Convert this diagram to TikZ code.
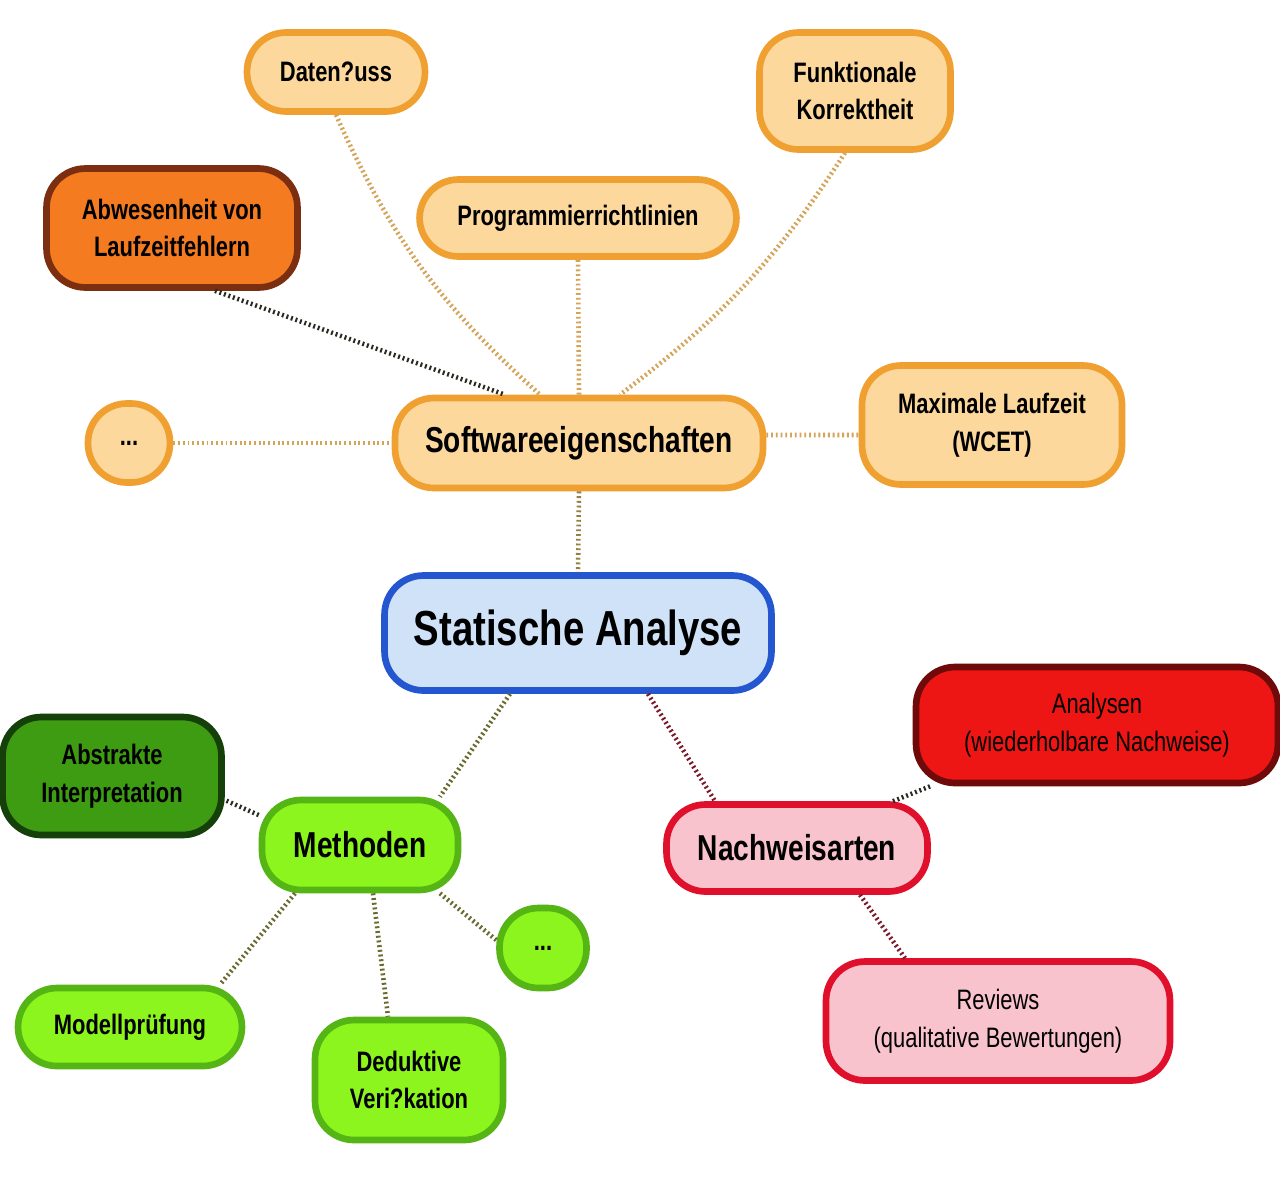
\documentclass[tikz,border=0pt]{standalone}
\usepackage{fontspec}
\setsansfont[FakeStretch=0.78]{Liberation Sans}
\definecolor{orfill}{HTML}{FCD89C}
\definecolor{ordraw}{HTML}{F0A030}
\definecolor{abfill}{HTML}{F47B20}
\definecolor{abdraw}{HTML}{7B2E10}
\definecolor{safill}{HTML}{CFE2F8}
\definecolor{sadraw}{HTML}{2456D0}
\definecolor{anfill}{HTML}{EE1515}
\definecolor{andraw}{HTML}{6E0A0A}
\definecolor{aifill}{HTML}{3E9C12}
\definecolor{aidraw}{HTML}{16400A}
\definecolor{grfill}{HTML}{8CF51E}
\definecolor{grdraw}{HTML}{55B514}
\definecolor{pkfill}{HTML}{F9C3CE}
\definecolor{pkdraw}{HTML}{E0102C}
\definecolor{tanc}{HTML}{D4A458}
\definecolor{olivec}{HTML}{6A6A30}
\definecolor{winec}{HTML}{7A1A2A}
\definecolor{darkc}{HTML}{2A2A22}
\tikzset{
  bx/.style 2 args={draw, line width=3.8pt, rounded corners=7.8mm, align=center,
    minimum width=#1*0.2mm, minimum height=#2*0.2mm, inner sep=0pt,
    font=\sffamily\bfseries\fontsize{16}{21.5}\selectfont},
  orn/.style={fill=orfill, draw=ordraw},
  grn/.style={fill=grfill, draw=grdraw},
  pkn/.style={fill=pkfill, draw=pkdraw},
  big/.style={font=\sffamily\bfseries\fontsize{20.5}{24}\selectfont},
  lk/.style={line width=2.6pt, dash pattern=on 1.1pt off 1.6pt},
}
\begin{document}
\begin{tikzpicture}[x=0.02cm, y=-0.02cm]
\useasboundingbox[fill=white] (0,0) rectangle (1280,1190);
% nodes
\node[bx={178}{79}, orn] (daten) at (336,72) {Daten?uss};
\node[bx={191}{117}, orn] (funk) at (855,91) {Funktionale\\Korrektheit};
\node[bx={317}{77}, orn] (prog) at (578,218) {Programmierrichtlinien};
\node[bx={251}{119}, fill=abfill, draw=abdraw] (abw) at (172,228) {Abwesenheit von\\Laufzeitfehlern};
\node[bx={82}{79}, orn] (dots1) at (129,443) {...};
\node[bx={368}{90}, orn, big] (sw) at (579,443) {Softwareeigenschaften};
\node[bx={260}{119}, orn] (wcet) at (992,425) {Maximale Laufzeit\\(WCET)};
\node[bx={387}{115}, fill=safill, draw=sadraw, font=\sffamily\bfseries\fontsize{28}{32}\selectfont] (sa) at (578,633) {Statische Analyse};
\node[bx={362}{116}, fill=anfill, draw=andraw, font=\sffamily\fontsize{16}{21.5}\selectfont] (ana) at (1097,725) {Analysen\\(wiederholbare Nachweise)};
\node[bx={219}{118}, fill=aifill, draw=aidraw] (abs) at (112,776) {Abstrakte\\Interpretation};
\node[bx={196}{90}, grn, big] (meth) at (360,845) {Methoden};
\node[bx={261}{87}, pkn, big] (nach) at (797,848) {Nachweisarten};
\node[bx={87}{80}, grn] (dots2) at (543,948) {...};
\node[bx={224}{78}, grn] (mod) at (130,1027) {Modellprüfung};
\node[bx={188}{120}, grn] (ded) at (409,1080) {Deduktive\\Veri?kation};
\node[bx={344}{119}, pkn, font=\sffamily\fontsize{16}{21.5}\selectfont] (rev) at (998,1021) {Reviews\\(qualitative Bewertungen)};
% connectors
\draw[lk, tanc] (daten.south) to[bend right=12] ([xshift=-39*0.2mm]sw.north);
\draw[lk, tanc] ([xshift=-10*0.2mm]funk.south) to[bend left=10] ([xshift=41*0.2mm]sw.north);
\draw[lk, tanc] (prog.south) -- (sw.north);
\draw[lk, darkc] ([xshift=43*0.2mm]abw.south) -- ([xshift=-74*0.2mm]sw.north);
\draw[lk, tanc] (dots1.east) -- (sw.west);
\draw[lk, tanc] ([yshift=8*0.2mm]sw.east) -- ([yshift=-10*0.2mm]wcet.west);
\draw[lk, olivec!60!tanc] (sw.south) -- (sa.north);
\draw[lk, olivec] ([xshift=-68*0.2mm]sa.south) -- ([xshift=80*0.2mm]meth.north);
\draw[lk, winec] ([xshift=70*0.2mm]sa.south) -- ([xshift=-82*0.2mm]nach.north);
\draw[lk, darkc] ([yshift=30*0.2mm]meth.west) -- ([yshift=-24*0.2mm]abs.east);
\draw[lk, olivec] ([xshift=-65*0.2mm]meth.south) -- ([xshift=90*0.2mm]mod.north);
\draw[lk, olivec] ([xshift=13*0.2mm]meth.south) -- ([xshift=-21*0.2mm]ded.north);
\draw[lk, olivec] ([xshift=80*0.2mm]meth.south) -- ([yshift=8*0.2mm]dots2.west);
\draw[lk, darkc] ([xshift=96*0.2mm]nach.north) -- ([xshift=-167*0.2mm]ana.south);
\draw[lk, winec] ([xshift=63*0.2mm]nach.south) -- ([xshift=-93*0.2mm]rev.north);
\end{tikzpicture}
\end{document}
